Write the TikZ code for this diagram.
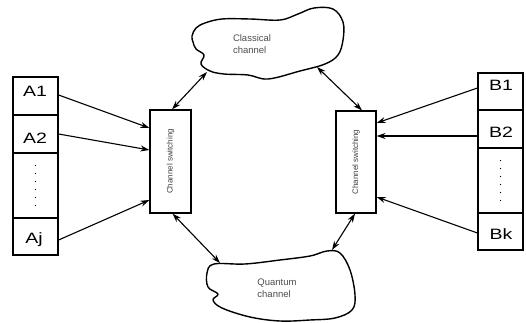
\documentclass[tikz,border=0pt]{standalone}
\usepackage{fontspec}
\setmainfont{Liberation Sans}
\usetikzlibrary{arrows.meta,calc}
\newcommand{\celltext}[1]{\scalebox{1.3}[1]{#1}}
\tikzset{
  cell/.style={draw, line width=1.2pt, minimum width=45pt, inner sep=0pt, font=\fontsize{15}{15}\selectfont},
  switchbox/.style={draw, line width=1.2pt, minimum width=41pt, minimum height=103pt, inner sep=0pt},
  feed/.style={line width=1.1pt, -{Stealth[length=9pt,width=6pt]}},
  link/.style={line width=1.1pt, {Stealth[length=9pt,width=6pt]}-{Stealth[length=9pt,width=6pt]}},
  cloudline/.style={line width=1.4pt, line join=round},
  cloudtext/.style={font=\fontsize{9.5}{12}\selectfont, text=black!70, align=left, inner sep=0pt},
  switchtext/.style={font=\fontsize{8}{9}\selectfont, text=black!75, rotate=90, inner sep=0pt},
  celllabel/.style={inner sep=0pt, font=\fontsize{15}{15}\selectfont}
}
\begin{document}
\begin{tikzpicture}[x=1pt,y=-1pt]
\useasboundingbox (0,0) rectangle (526,323);

% sender column A
\node[cell, minimum height=38pt] (a1) at (35.5,96) {};
\node[cell, minimum height=38pt] (a2) at (35.5,134) {};
\node[cell, minimum height=65pt] (ad) at (35.5,185.5) {};
\node[cell, minimum height=37pt] (aj) at (35.5,236.5) {};
\node[celllabel] (a1t) at (35,91) {\celltext{A1}};
\node[celllabel] (a2t) at (35,138) {\celltext{A2}};
\node[celllabel] (ajt) at (34,240) {\celltext{Aj}};
\foreach \i in {0,...,5} \fill ($(ad.center)+(0,-20+8*\i)$) circle (0.7pt);

% receiver column B
\node[cell, minimum height=37pt] (b1) at (500.5,91.5) {};
\node[cell, minimum height=38pt] (b2) at (500.5,129) {};
\node[cell, minimum height=65pt] (bd) at (500.5,180.5) {};
\node[cell, minimum height=37pt] (bk) at (500.5,231.5) {};
\node[celllabel] (b1t) at (501,85.5) {\celltext{B1}};
\node[celllabel] (b2t) at (501,132) {\celltext{B2}};
\node[celllabel] (bkt) at (501,234) {\celltext{Bk}};
\foreach \i in {0,...,5} \fill ($(bd.center)+(0,-20+8*\i)$) circle (0.7pt);

% channel switching boxes
\node[switchbox] (sl) at (170.5,161.5) {};
\node[switchtext] (slt) at (sl.center) {Channel switching};
\node[switchbox, minimum width=40pt, minimum height=102pt] (sr) at (356,162) {};
\node[switchtext] (srt) at (sr.center) {Channel switching};

% classical channel cloud
\draw[cloudline] plot[smooth cycle, tension=0.6] coordinates {
  (192,36) (196,28) (205,23) (222,19) (250,19) (280,20) (298,14) (314,8)
  (333,9) (343,22) (343,40) (338,55) (325,64) (300,71) (268,79) (248,75)
  (224,74) (210,71) (201,64) (204,55) (196,49) (193,42)};
\node[cloudtext] (cct) at (252,44) {Classical\\channel};
\coordinate (ccl) at (207,72);
\coordinate (ccr) at (317,67);

% quantum channel cloud
\draw[cloudline] plot[smooth cycle, tension=0.6] coordinates {
  (214,264) (245,264) (280,260) (310,256) (327,251) (340,253) (350,270)
  (355,295) (352,310) (335,318) (310,320) (280,321) (250,317) (222,308)
  (213,300) (218,294) (208,287) (207,273)};
\node[cloudtext] (qct) at (277,288) {Quantum\\channel};
\coordinate (qcl) at (220,263);
\coordinate (qcr) at (332,250);

% inputs into the switches
\draw[feed] ([yshift=1pt]a1.east) -- ([yshift=33.5pt]sl.west);
\draw[feed] (a2.east) -- ([yshift=11.5pt]sl.west);
\draw[feed] ([yshift=-3.5pt]aj.east) -- ([yshift=-38.5pt]sl.west);
\draw[feed] ([yshift=3.5pt]b1.west) -- ([yshift=39pt]sr.east);
\draw[feed] ([yshift=-7pt]b2.west) -- ([yshift=26pt]sr.east);
\draw[feed] ([yshift=-1.5pt]bk.west) -- ([yshift=-35pt]sr.east);

% switches to the channels
\draw[link] (ccl) -- ([xshift=1.5pt]sl.north);
\draw[link] (ccr) -- ([xshift=6pt]sr.north);
\draw[link] ([xshift=2pt]sl.south) -- (qcl);
\draw[link] ([xshift=-1pt]sr.south) -- (qcr);
\end{tikzpicture}
\end{document}
